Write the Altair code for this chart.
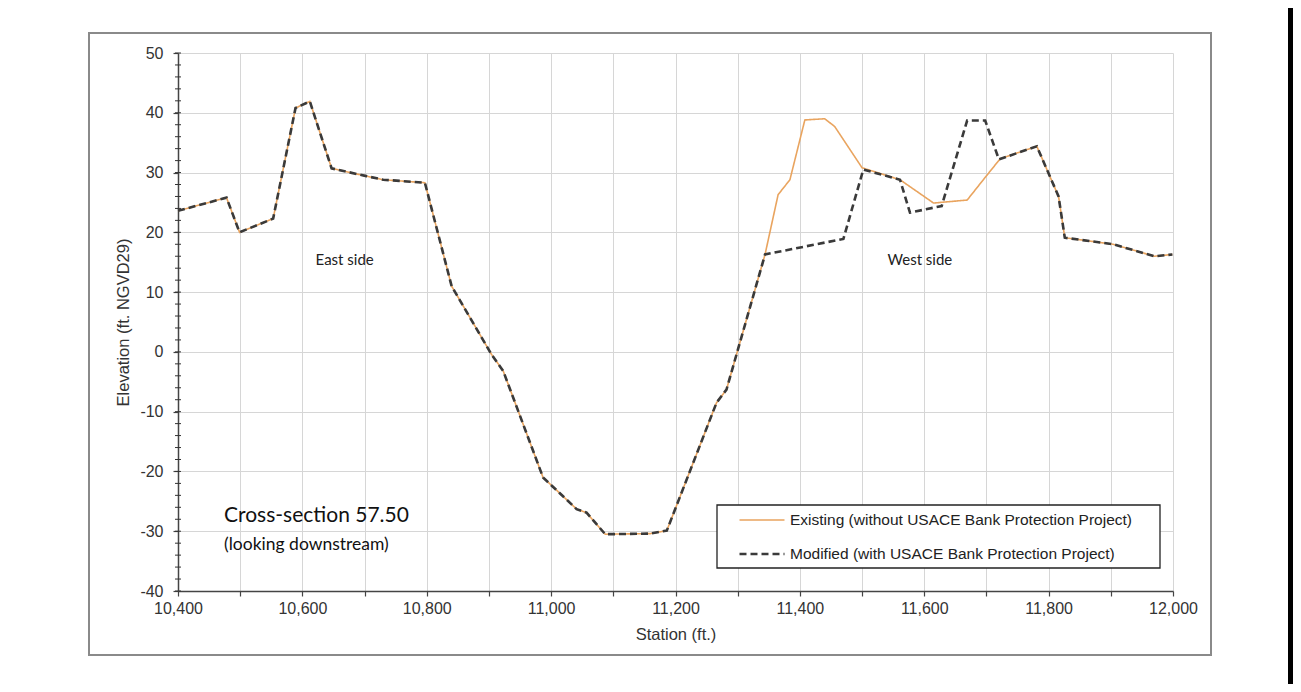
import altair as alt
import pandas as pd

# ---- data ----
existing_x = [10400, 10478, 10499, 10553, 10589, 10612, 10647, 10703, 10730, 10797,
              10840, 10904, 10923, 10987, 11041, 11057, 11087, 11159, 11186, 11266,
              11282, 11344, 11365, 11384, 11408, 11440, 11456, 11500, 11561, 11615,
              11669, 11695, 11722, 11781, 11816, 11826, 11904, 11970, 11999]
existing_y = [23.6, 25.8, 20.0, 22.3, 40.8, 41.9, 30.7, 29.4, 28.8, 28.3,
              11.0, -0.4, -3.2, -21.0, -26.3, -26.9, -30.5, -30.4, -29.9, -8.5,
              -6.3, 16.3, 26.3, 28.8, 38.8, 39.0, 37.7, 30.8, 28.8, 24.9,
              25.4, 28.8, 32.3, 34.4, 26.0, 19.1, 18.0, 16.0, 16.3]
modified_x = [10400, 10478, 10499, 10553, 10589, 10612, 10647, 10703, 10730, 10797,
              10840, 10904, 10923, 10987, 11041, 11057, 11087, 11159, 11186, 11266,
              11282, 11344, 11470, 11502, 11561, 11577, 11628, 11669, 11698, 11720,
              11781, 11816, 11826, 11904, 11970, 11999]
modified_y = [23.6, 25.8, 20.0, 22.3, 40.8, 41.9, 30.7, 29.4, 28.8, 28.3,
              11.0, -0.4, -3.2, -21.0, -26.3, -26.9, -30.5, -30.4, -29.9, -8.5,
              -6.3, 16.3, 18.9, 30.5, 28.8, 23.3, 24.4, 38.7, 38.7, 32.2,
              34.4, 26.0, 19.1, 18.0, 16.0, 16.3]
series_names = ["Existing (without USACE Bank Protection Project)",
                "Modified (with USACE Bank Protection Project)"]
x_tick_values = [10400, 10500, 10600, 10700, 10800, 10900, 11000, 11100, 11200,
                 11300, 11400, 11500, 11600, 11700, 11800, 11900, 12000]
y_tick_values = [-40, -30, -20, -10, 0, 10, 20, 30, 40, 50]
y_minor_values = [-40, -38, -36, -34, -32, -30, -28, -26, -24, -22, -20, -18, -16,
                  -14, -12, -10, -8, -6, -4, -2, 0, 2, 4, 6, 8, 10, 12, 14, 16, 18,
                  20, 22, 24, 26, 28, 30, 32, 34, 36, 38, 40, 42, 44, 46, 48, 50]
side_labels = ["East side", "West side"]
side_x = [10668, 11593]
side_y = [15.3, 15.4]
title_lines = ["Cross-section 57.50", "(looking downstream)"]
title_x = [10474, 10474]
title_y = [-27.5, -32.3]

df = pd.DataFrame({
    "station": existing_x + modified_x,
    "elev": existing_y + modified_y,
    "series": [series_names[0]] * len(existing_x) + [series_names[1]] * len(modified_x),
})
df_minor = pd.DataFrame({"y": y_minor_values})
dummy = pd.DataFrame({"a": [0]})

xscale = alt.Scale(domain=[10400, 12000], nice=False, zero=False)
yscale = alt.Scale(domain=[-40, 50], nice=False, zero=False)

AX_FONT = "Liberation Sans"

x_enc = alt.X("station:Q", scale=xscale, title="Station  (ft.)",
              axis=alt.Axis(values=x_tick_values,
                            labelExpr="datum.value % 200 === 0 ? format(datum.value, ',') : ''",
                            tickSize=5, labelPadding=4, titlePadding=10,
                            labelFlush=False))
y_enc = alt.Y("elev:Q", scale=yscale, title="Elevation  (ft. NGVD29)",
              axis=alt.Axis(values=y_tick_values, labelExpr="'' + datum.value", tickSize=5,
                            labelPadding=10, titlePadding=8))

leg = dict(title=None, orient="none", legendX=560, legendY=460,
           symbolType="stroke", symbolSize=2025, clipHeight=14, rowPadding=18,
           labelOffset=4, padding=0, symbolOffset=0)

lines = alt.Chart(df).mark_line(strokeJoin="miter").encode(
    x=x_enc,
    y=y_enc,
    color=alt.Color("series:N",
                    scale=alt.Scale(domain=series_names, range=["#E9A45F", "#3a3a3a"]),
                    legend=alt.Legend(**leg)),
    strokeDash=alt.StrokeDash("series:N",
                              scale=alt.Scale(domain=series_names, range=[[1, 0], [7, 4]]),
                              legend=alt.Legend(**leg)),
    strokeWidth=alt.StrokeWidth("series:N",
                                scale=alt.Scale(domain=series_names, range=[1.6, 2.6]),
                                legend=alt.Legend(**leg)),
    order=alt.Order("station:Q"),
)

# decorations: outer panel border and right frame strip
panel = alt.Chart(dummy).mark_rect(fill=None, stroke="#8a8a8a", strokeWidth=2).encode(
    x=alt.value(-89), x2=alt.value(1033), y=alt.value(-20), y2=alt.value(602))
strip = alt.Chart(dummy).mark_rect(fill="black").encode(
    x=alt.value(1110), x2=alt.value(1116), y=alt.value(-46), y2=alt.value(632))
legend_box = alt.Chart(dummy).mark_rect(fill="white", stroke="#222222", strokeWidth=1.3).encode(
    x=alt.value(539), x2=alt.value(982), y=alt.value(452), y2=alt.value(515))

minor = alt.Chart(df_minor).mark_rule(color="#333333", strokeWidth=1).encode(
    y=alt.Y("y:Q", scale=yscale), x=alt.value(-3), x2=alt.value(3))

sides = alt.Chart(pd.DataFrame({"t": side_labels, "x": side_x, "y": side_y})).mark_text(
    font="Lato", fontSize=15, color="#222222", align="center", baseline="middle").encode(
    x=alt.X("x:Q", scale=xscale), y=alt.Y("y:Q", scale=yscale), text="t:N")

t1 = alt.Chart(pd.DataFrame({"t": title_lines[:1], "x": title_x[:1], "y": title_y[:1]})).mark_text(
    font="Lato", fontSize=21, color="#111111", align="left", baseline="middle").encode(
    x=alt.X("x:Q", scale=xscale), y=alt.Y("y:Q", scale=yscale), text="t:N")
t2 = alt.Chart(pd.DataFrame({"t": title_lines[1:], "x": title_x[1:], "y": title_y[1:]})).mark_text(
    font="Lato", fontSize=17.5, color="#111111", align="left", baseline="middle").encode(
    x=alt.X("x:Q", scale=xscale), y=alt.Y("y:Q", scale=yscale), text="t:N")

chart = alt.layer(panel, strip, legend_box, lines, minor, sides, t1, t2).properties(
    width=995, height=538,
    autosize=alt.AutoSizeParams(type="none"),
    padding={"left": 170, "top": 45, "right": 120, "bottom": 93},
    background="white",
).configure_view(stroke=None).configure_axis(
    labelFont=AX_FONT, titleFont=AX_FONT, labelFontSize=16, titleFontSize=16.5,
    titleFontWeight="normal", labelColor="#333333", titleColor="#333333",
    gridColor="#d6d6d6", gridWidth=1, domainColor="#444444", domainWidth=1.5,
    tickColor="#444444", tickWidth=1.2,
).configure_legend(
    labelFont=AX_FONT, labelFontSize=15.5, labelColor="#222222", labelLimit=600,
)

chart.save("out.html", embed_options={"renderer": "svg", "actions": False})
